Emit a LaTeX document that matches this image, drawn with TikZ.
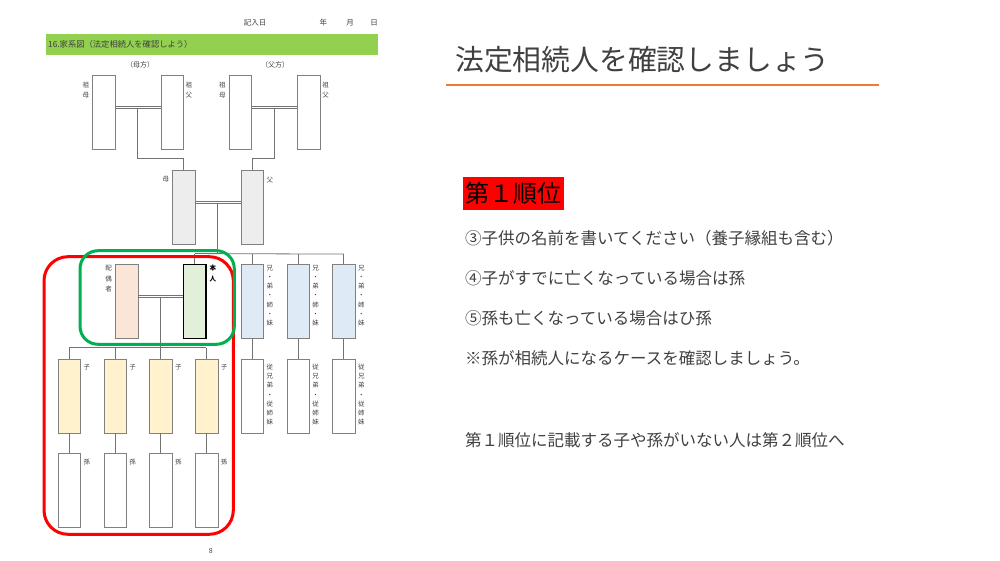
\documentclass[tikz,border=0pt]{standalone}
\usepackage{fontspec}
\setmainfont{Noto Sans CJK JP}
\definecolor{barGreen}{HTML}{92D050}
\definecolor{parentGray}{HTML}{EDEDED}
\definecolor{spousePink}{HTML}{FBE5D6}
\definecolor{selfGreen}{HTML}{E2F0D9}
\definecolor{sibBlue}{HTML}{DEEBF7}
\definecolor{kidYellow}{HTML}{FFF2CC}
\definecolor{ringGreen}{HTML}{00B050}
\definecolor{titleOrange}{HTML}{ED7D31}
\definecolor{textGray}{HTML}{404040}

\begin{document}
\begin{tikzpicture}[x=1pt, y=-1pt, node distance=68.3pt,
  person/.style={rectangle, draw=black!50, fill=white, minimum width=22.6pt, minimum height=74pt, inner sep=0pt},
  vlab/.style={font=\fontsize{6.5}{#1}\selectfont, align=center, inner sep=0pt, text=textGray},
  vlab/.default=10,
  small/.style={font=\fontsize{#1}{#1}\selectfont, inner sep=0pt, text=textGray},
  link/.style={draw=black!55, line width=0.8pt},
  marry/.style={draw=black!55, line width=0.8pt, transform canvas={yshift=#1}},
  body/.style={anchor=west, inner sep=0pt, font=\fontsize{16.5}{18}\selectfont, text=textGray}]
  \useasboundingbox (0,0) rectangle (1000,561);

  % header of the sheet
  \node[small=7.5] (date) at (255,22.7) {記入日};
  \node[small=7.5] (yr) at (323.3,22.7) {年};
  \node[small=7.5] (mon) at (350,22.7) {月};
  \node[small=7.5] (day) at (374,22.7) {日};
  \node[fill=barGreen, minimum width=332pt, minimum height=21pt, inner sep=0pt, anchor=north west] (bar) at (46,34) {};
  \node[small=8.3, anchor=west] (bartxt) at (48,44.5) {16.家系図（法定相続人を確認しよう）};
  \node[small=7] (mside) at (140,65) {（母方）};
  \node[small=7] (pside) at (275,65) {（父方）};

  % grandparents and parents
  \node[person] (gmm) at (103.7,112) {};
  \node[person, right of=gmm] (gfm) {};
  \node[person, right of=gfm] (gmp) {};
  \node[person, right of=gmp] (gfp) {};
  \node[person, fill=parentGray] (mo) at (183.7,207) {};
  \node[person, fill=parentGray, right of=mo] (fa) {};

  % self, spouse, siblings, cousins
  \node[person, fill=spousePink] (sp) at (126.5,301.3) {};
  \node[person, fill=selfGreen, draw=black, line width=1.5pt, right of=sp] (me) {};
  \node[person, fill=sibBlue, right of=me, node distance=57.4pt] (sib1) {};
  \node[person, fill=sibBlue, right of=sib1, node distance=45.8pt] (sib2) {};
  \node[person, fill=sibBlue, right of=sib2, node distance=45.8pt] (sib3) {};
  \foreach \i in {1,2,3}
    \node[person, below of=sib\i, node distance=94.5pt] (cou\i) {};

  % children and grandchildren
  \node[person, fill=kidYellow] (ch1) at (69.3,396) {};
  \foreach \i [count=\j from 2] in {1,2,3}
    \node[person, fill=kidYellow, right of=ch\i, node distance=45.7pt] (ch\j) {};
  \foreach \i in {1,...,4}
    \node[person, below of=ch\i, node distance=94pt] (gc\i) {};

  % labels
  \foreach \p in {gmm,gmp}
    \node[vlab, anchor=north east] (\p l) at ([xshift=-3pt,yshift=-6.8pt]\p.north west) {祖\\母};
  \foreach \p in {gfm,gfp}
    \node[vlab, anchor=north west] (\p l) at ([xshift=2pt,yshift=-6.8pt]\p.north east) {祖\\父};
  \node[vlab, anchor=north east] (mol) at ([xshift=-3pt,yshift=-6.8pt]mo.north west) {母};
  \node[vlab, anchor=north west] (fal) at ([xshift=3pt,yshift=-6.8pt]fa.north east) {父};
  \node[vlab=10.6, anchor=north east] (spl) at ([xshift=-3pt,yshift=-1.2pt]sp.north west) {配\\偶\\者};
  \node[vlab, anchor=north west, text=black, font=\fontsize{6.5}{10.6}\selectfont\bfseries] (mel) at ([xshift=2.5pt,yshift=-1.2pt]me.north east) {本\\人};
  \foreach \i in {1,2,3} {
    \node[vlab=9.1, anchor=north west] (sib\i l) at ([xshift=2.7pt,yshift=-1.2pt]sib\i.north east) {兄\\・\\弟\\・\\姉\\・\\妹};
    \node[vlab=9.1, anchor=north west] (cou\i l) at ([xshift=2.7pt,yshift=-5.5pt]cou\i.north east) {従\\兄\\弟\\・\\従\\姉\\妹};
  }
  \foreach \i in {1,...,4} {
    \node[vlab, anchor=north west] (ch\i l) at ([xshift=2.7pt,yshift=-5.5pt]ch\i.north east) {子};
    \node[vlab, anchor=north west] (gc\i l) at ([xshift=2.7pt,yshift=-6.2pt]gc\i.north east) {孫};
  }

  % connectors
  \foreach \a/\b in {gmm/gfm, gmp/gfp, mo/fa, sp/me} {
    \draw[marry=6pt] (\a.east) -- (\b.west);
    \draw[marry=4pt] (\a.east) -- (\b.west);
  }
  \path ([yshift=4pt]gmm.east) -- node[coordinate] (matm) {} ([yshift=4pt]gfm.west);
  \path ([yshift=4pt]gmp.east) -- node[coordinate] (patm) {} ([yshift=4pt]gfp.west);
  \path ([yshift=4pt]mo.east) -- node[coordinate] (par) {} ([yshift=4pt]fa.west);
  \path ([yshift=4pt]sp.east) -- node[coordinate] (cpl) {} ([yshift=4pt]me.west);
  \draw[link] (matm) |- ([yshift=11pt]mo.north) -- (mo.north);
  \draw[link] (patm) |- ([yshift=11pt]fa.north) -- (fa.north);
  \draw[link] ([yshift=10pt]me.north) coordinate (sbus) -- ([yshift=10pt]sib3.north);
  \draw[link] (par) -- (par |- sbus);
  \foreach \p in {me,sib1,sib2,sib3}
    \draw[link] ([yshift=10pt]\p.north) -- (\p.north);
  \foreach \i in {1,2,3}
    \draw[link] (sib\i) -- (cou\i);
  \draw[link] ([yshift=11pt]ch1.north) coordinate (kbus) -- ([yshift=11pt]ch4.north);
  \draw[link] (cpl) -- (cpl |- kbus);
  \foreach \i in {1,...,4} {
    \draw[link] ([yshift=11pt]ch\i.north) -- (ch\i.north);
    \draw[link] (ch\i) -- (gc\i);
  }

  % heirs of the first rank
  \draw[red, line width=3pt, rounded corners=24pt] (44,256.7) rectangle (233.3,534.3);
  \draw[ringGreen, line width=3pt, rounded corners=18pt] (80,250.7) rectangle (234.3,344.3);
  \node[small=7] (page) at (210.7,550.7) {8};

  % slide text
  \node[anchor=west, inner sep=0pt, font=\fontsize{28.8}{30}\selectfont, text=textGray] (title) at (455,60) {法定相続人を確認しましょう};
  \draw[titleOrange, line width=2pt] (446,85) -- (879,85);
  \node[fill=red, minimum width=101pt, minimum height=33.3pt, inner sep=0pt, font=\fontsize{24}{26}\selectfont] (rank) at (513.8,193.3) {第１順位};
  \node[body] (l3) at (465,238) {③子供の名前を書いてください（養子縁組も含む）};
  \node[body] (l4) at (465,278) {④子がすでに亡くなっている場合は孫};
  \node[body] (l5) at (465,318) {⑤孫も亡くなっている場合はひ孫};
  \node[body] (note) at (465,358) {※孫が相続人になるケースを確認しましょう。};
  \node[body] (next) at (465,440) {第１順位に記載する子や孫がいない人は第２順位へ};
\end{tikzpicture}
\end{document}
